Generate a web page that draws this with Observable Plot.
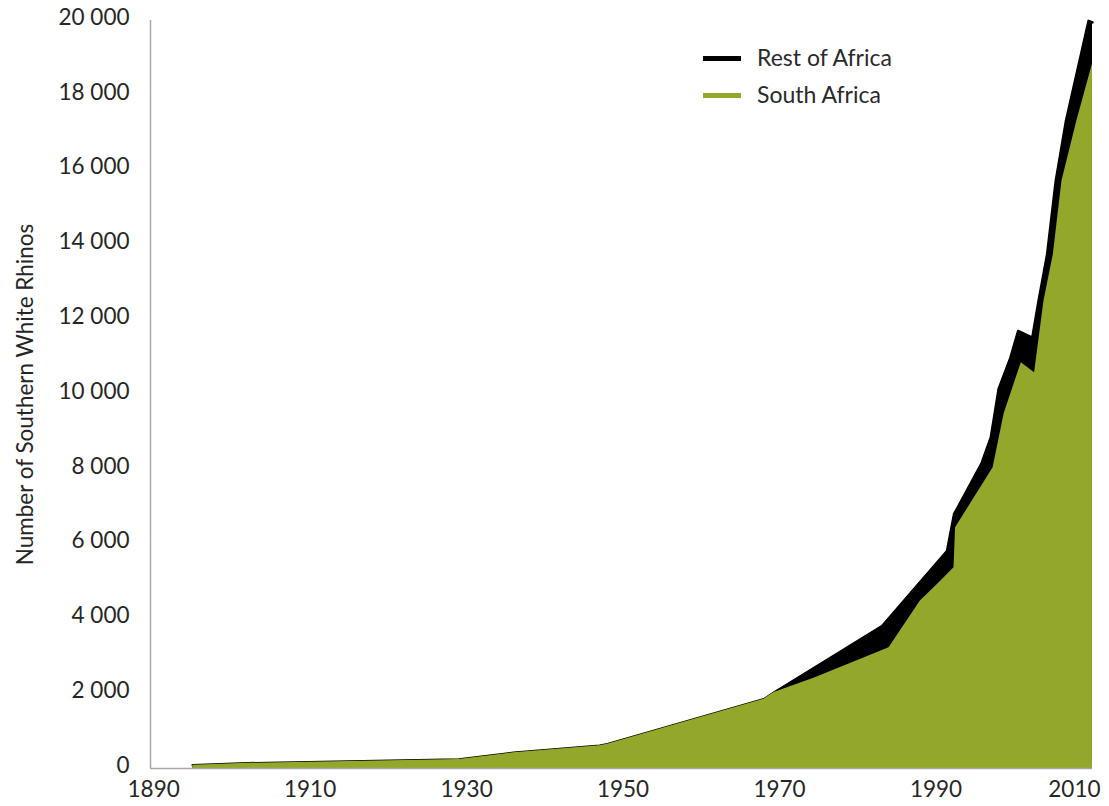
<!DOCTYPE html>
<html>
<head>
<meta charset="utf-8">
<script src="https://cdn.jsdelivr.net/npm/d3@7"></script>
<script src="https://cdn.jsdelivr.net/npm/@observablehq/plot@0.6"></script>
<style>
  html, body { margin: 0; padding: 0; background: #fff; }
  #wrap { position: relative; width: 1109px; height: 806px; font-family: Lato, "Open Sans", sans-serif; }
  .legend { position: absolute; left: 703px; font-size: 23px; color: #2a2a2a; }
  .legend .row { position: absolute; left: 0; white-space: nowrap; height: 26px; }
  .legend .sw { position: absolute; left: 0; width: 38px; height: 5px; }
  .legend .lab { position: absolute; left: 54px; top: 0; line-height: 26px; }
</style>
</head>
<body>
<div id="wrap"></div>
<script>
// ---- data ----
const seriesNames = ["Rest of Africa", "South Africa"];
const seriesColors = ["#000000", "#93a82a"];

// South Africa population (green area)
const saYears  = [1895, 1902, 1929, 1936, 1947, 1948, 1968, 1969.3, 1974.4, 1984, 1988, 1990.6, 1992.3, 1992.5, 1997.3, 1998.7, 2000.9, 2002.6, 2003.8, 2005, 2006.1, 2008, 2010];
const saValues = [90, 140, 240, 420, 610, 650, 1850, 2030, 2410, 3230, 4480, 5010, 5370, 6440, 8040, 9480, 10850, 10580, 12500, 13750, 15710, 17310, 18840];

// Top of the Rest of Africa band (South Africa + Rest of Africa)
const totalYears  = [1895, 1902, 1929, 1936, 1947, 1948, 1968, 1969.3, 1983.1, 1991.4, 1992.3, 1995.8, 1997, 1998, 1999.5, 2000.5, 2002.3, 2003.1, 2004.2, 2005.3, 2006.6, 2009.5, 2010];
const totalValues = [90, 140, 240, 420, 610, 650, 1850, 2030, 3810, 5815, 6800, 8150, 8850, 10150, 10980, 11700, 11520, 12500, 13750, 15710, 17310, 19990, 19950];

const xTicks = [1890, 1910, 1930, 1950, 1970, 1990, 2010];
const yTicks = [0, 2000, 4000, 6000, 8000, 10000, 12000, 14000, 16000, 18000, 20000];
const xDomain = [1889.6, 2010];
const yDomain = [0, 20000];
const yLabel = "Number of Southern White Rhinos";

// ---- tables ----
const sa = saYears.map((y, i) => ({year: y, value: saValues[i]}));
const total = totalYears.map((y, i) => ({year: y, value: totalValues[i]}));

const fmt = d => d3.format(",")(d).replace(/,/g, " ");
const textColor = "#262626";
const axisGray = "#a8a8a8";

const chart = Plot.plot({
  width: 1109,
  height: 806,
  marginLeft: 150,
  marginRight: 17,
  marginTop: 20,
  marginBottom: 38,
  style: {fontFamily: "Lato, 'Open Sans', sans-serif", fontSize: "22.5px", color: textColor, background: "#fff"},
  x: {domain: xDomain},
  y: {domain: yDomain},
  marks: [
    Plot.areaY(total, {x: "year", y: "value", fill: seriesColors[0], curve: "linear"}),
    Plot.lineY(total, {x: "year", y: "value", stroke: seriesColors[0], strokeWidth: 2.5, strokeLinejoin: "round", curve: "linear"}),
    Plot.areaY(sa, {x: "year", y: "value", fill: seriesColors[1], curve: "linear"}),
    Plot.ruleX([xDomain[0]], {stroke: axisGray, strokeWidth: 1.5}),
    Plot.ruleY([yDomain[0]], {stroke: axisGray, strokeWidth: 1.5}),
    Plot.axisY(yTicks, {tickSize: 0, tickPadding: 21, tickFormat: fmt, dy: -3, fill: textColor,
      label: yLabel, labelAnchor: "center", labelOffset: 133, labelArrow: "none"}),
    Plot.axisX(xTicks.slice(0, -1), {tickSize: 0, tickPadding: 13, tickFormat: d => String(d), fill: textColor, label: null}),
    Plot.axisX(xTicks.slice(-1), {tickSize: 0, tickPadding: 13, tickFormat: d => String(d), fill: textColor, label: null, textAnchor: "end", dx: 8})
  ]
});

const wrap = document.getElementById("wrap");
wrap.appendChild(chart);

// legend overlay
const legend = document.createElement("div");
legend.className = "legend";
legend.style.top = "0px";
const rowsTop = [44, 81];
seriesNames.forEach((name, i) => {
  const row = document.createElement("div");
  row.className = "row";
  row.style.top = rowsTop[i] + "px";
  const sw = document.createElement("div");
  sw.className = "sw";
  sw.style.top = "12px";
  sw.style.background = seriesColors[i];
  const lab = document.createElement("div");
  lab.className = "lab";
  lab.textContent = name;
  row.appendChild(sw);
  row.appendChild(lab);
  legend.appendChild(row);
});
wrap.appendChild(legend);
</script>
</body>
</html>
